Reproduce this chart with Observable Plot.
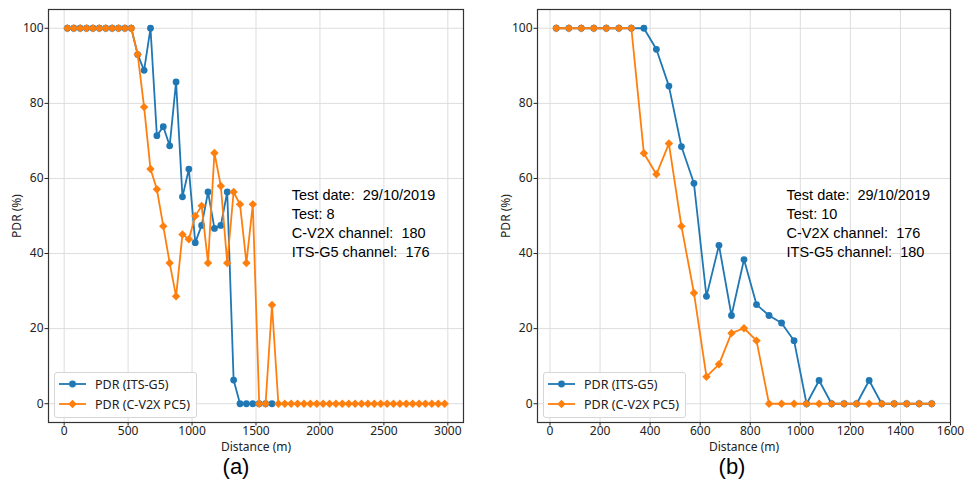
<!DOCTYPE html>
<html>
<head>
<meta charset="utf-8">
<script src="https://cdn.jsdelivr.net/npm/d3@7"></script>
<script src="https://cdn.jsdelivr.net/npm/@observablehq/plot@0.6"></script>
<style>
  body { margin: 0; background: #fff; }
  #wrap { position: relative; width: 964px; height: 489px; overflow: hidden; }
  .panel { position: absolute; top: 0; }
  .legend { position: absolute; top: 372px; width: 141px; height: 44px; border: 1px solid #d6d6d6; border-radius: 3px; background: rgba(255,255,255,0.85); font-family: "Noto Sans", sans-serif; font-size: 12.5px; color: #222; white-space: nowrap; }
  .legend .row { position: absolute; left: 4px; height: 18px; display: flex; align-items: center; }
  .legend svg { margin-right: 9px; flex: none; }
  .caption { position: absolute; top: 456px; line-height: 22px; font-family: "Liberation Sans", Arial, sans-serif; font-size: 22px; color: #000; transform: translateX(-50%); }
</style>
</head>
<body>
<div id="wrap">
  <div id="pa" class="panel" style="left:0px"></div>
  <div id="pb" class="panel" style="left:482px"></div>
  <div class="legend" style="left:54px" id="la"></div>
  <div class="legend" style="left:543px" id="lb"></div>
  <div class="caption" style="left:236px">(a)</div>
  <div class="caption" style="left:732px">(b)</div>
</div>
<script>
// ---- Data ----
const seriesNames = ["PDR (ITS-G5)", "PDR (C-V2X PC5)"];
const colors = ["#1f77b4", "#ff7f0e"];

// Test 8 (panel a)
const distA_its = [25,75,125,175,225,275,325,375,425,475,525,575,625,675,725,775,825,875,925,975,1025,1075,1125,1175,1225,1275,1325,1375,1425,1475,1525,1575,1625];
const pdrA_its  = [100,100,100,100,100,100,100,100,100,100,100,93,88.8,100,71.4,73.8,68.7,85.7,55.1,62.5,42.9,47.5,56.4,46.7,47.5,56.4,6.3,0,0,0,0,0,0];
const distA_cv2x = [25,75,125,175,225,275,325,375,425,475,525,575,625,675,725,775,825,875,925,975,1025,1075,1125,1175,1225,1275,1325,1375,1425,1475,1525,1575,1625,1675,1725,1775,1825,1875,1925,1975,2025,2075,2125,2175,2225,2275,2325,2375,2425,2475,2525,2575,2625,2675,2725,2775,2825,2875,2925,2975];
const pdrA_cv2x  = [100,100,100,100,100,100,100,100,100,100,100,93,79.0,62.5,57.1,47.3,37.5,28.6,45.1,43.8,50.0,52.7,37.5,66.8,58.0,37.5,56.4,53.1,37.5,53.1,0,0,26.3,0,0,0,0,0,0,0,0,0,0,0,0,0,0,0,0,0,0,0,0,0,0,0,0,0,0,0];
const ticksA = [0,500,1000,1500,2000,2500,3000];
const infoA = ["Test date:  29/10/2019", "Test: 8", "C-V2X channel:  180", "ITS-G5 channel:  176"];

// Test 10 (panel b)
const distB = [25,75,125,175,225,275,325,375,425,475,525,575,625,675,725,775,825,875,925,975,1025,1075,1125,1175,1225,1275,1325,1375,1425,1475,1525];
const pdrB_its  = [100,100,100,100,100,100,100,100,94.4,84.6,68.5,58.7,28.6,42.2,23.5,38.4,26.4,23.5,21.5,16.8,0,6.2,0,0,0,6.2,0,0,0,0,0];
const pdrB_cv2x = [100,100,100,100,100,100,100,66.7,61.1,69.3,47.3,29.5,7.2,10.5,18.8,20.1,16.8,0,0,0,0,0,0,0,0,0,0,0,0,0,0];
const ticksB = [0,200,400,600,800,1000,1200,1400,1600];
const infoB = ["Test date:  29/10/2019", "Test: 10", "C-V2X channel:  176", "ITS-G5 channel:  180"];

const yTicks = [0,20,40,60,80,100];

function panel({its, cv2x, xDomain, xTicks, info, infoX, marginLeft, marginRight}) {
  return Plot.plot({
    width: 482,
    height: 460,
    marginLeft, marginRight,
    marginTop: 9,
    marginBottom: 38,
    style: {fontFamily: "'Noto Sans', sans-serif", fontSize: "12px", color: "#222", background: "transparent", overflow: "visible"},
    x: {domain: xDomain},
    y: {domain: [-5, 105]},
    marks: [
      Plot.gridX(xTicks, {stroke: "#dddddd", strokeOpacity: 1}),
      Plot.gridY(yTicks, {stroke: "#dddddd", strokeOpacity: 1}),
      Plot.axisX({ticks: xTicks, tickFormat: d => String(d), tickSize: 3.5, tickPadding: 0.5, label: "Distance (m)", labelAnchor: "center", labelArrow: "none", labelOffset: 28, fontSize: 12}),
      Plot.axisY({ticks: yTicks, tickFormat: d => String(d), tickSize: 3.5, tickPadding: 1.5, label: "PDR (%)", labelAnchor: "center", labelArrow: "none", labelOffset: 36, fontSize: 12}),
      Plot.line(its, {x: "d", y: "v", stroke: colors[0], strokeWidth: 1.8}),
      Plot.dot(its, {x: "d", y: "v", fill: colors[0], stroke: "none", r: 3.4, symbol: "circle"}),
      Plot.line(cv2x, {x: "d", y: "v", stroke: colors[1], strokeWidth: 1.8}),
      Plot.dot(cv2x, {x: "d", y: "v", fill: colors[1], stroke: "none", r: 3.8, symbol: "diamond2"}),
      Plot.text([info.join("\n")], {x: infoX, y: 57.8, text: d => d, textAnchor: "start", lineAnchor: "top", lineHeight: 1.3, fontFamily: "'Liberation Sans', Arial, sans-serif", fontSize: 14.5, fill: "#000"}),
      Plot.frame({stroke: "#333", strokeWidth: 1.2})
    ]
  });
}

const zip = (ds, vs) => ds.map((d, i) => ({d, v: vs[i]}));

document.getElementById("pa").appendChild(panel({
  its: zip(distA_its, pdrA_its), cv2x: zip(distA_cv2x, pdrA_cv2x),
  xDomain: [-122.5, 3122.5], xTicks: ticksA, info: infoA, infoX: 1780,
  marginLeft: 48, marginRight: 19
}));
document.getElementById("pb").appendChild(panel({
  its: zip(distB, pdrB_its), cv2x: zip(distB, pdrB_cv2x),
  xDomain: [-50, 1600], xTicks: ticksB, info: infoB, infoX: 945,
  marginLeft: 55, marginRight: 14
}));

function legend(el) {
  const rows = [
    {name: seriesNames[0], color: colors[0], marker: `<circle cx="13.5" cy="6" r="3.4" fill="${colors[0]}"/>`},
    {name: seriesNames[1], color: colors[1], marker: `<path d="M13.5 1.8 L17.7 6 L13.5 10.2 L9.3 6 Z" fill="${colors[1]}"/>`}
  ];
  el.innerHTML = rows.map((r, i) =>
    `<div class="row" style="top:${2 + i * 20}px"><svg width="27" height="12"><line x1="0" y1="6" x2="27" y2="6" stroke="${r.color}" stroke-width="1.8"/>${r.marker}</svg><span>${r.name}</span></div>`
  ).join("");
}
legend(document.getElementById("la"));
legend(document.getElementById("lb"));
</script>
</body>
</html>
